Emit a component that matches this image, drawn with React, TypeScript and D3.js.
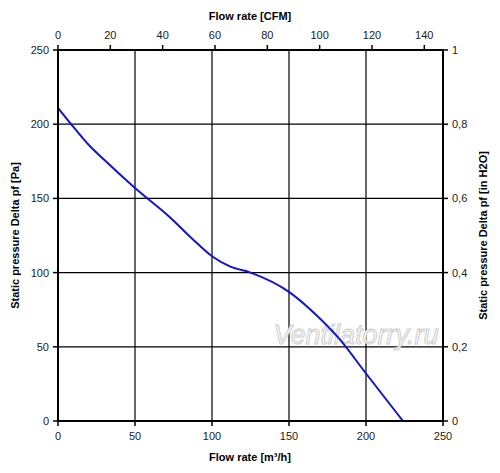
import React from "react";
import * as d3 from "d3";

// curve, m3/h vs Pa
const flowM3h = [0, 8.5, 20, 30, 50, 73, 87, 100, 112, 125, 150, 164, 183, 200, 224];
const pressurePa = [211, 200, 186, 176, 157, 137, 123, 111, 104, 100, 87, 75, 55, 32, 0];

const bottomTicks = [0, 50, 100, 150, 200, 250];
const leftTicks = [0, 50, 100, 150, 200, 250];
const topTicks = [0, 20, 40, 60, 80, 100, 120, 140];
const rightTicks = [0, 0.2, 0.4, 0.6, 0.8, 1];

const W = 500;
const H = 473;
const left = 58;
const right = 443;
const top = 50;
const bottom = 421;
const font = "'Liberation Sans', Arial, sans-serif";

const App = () => {
  const x = d3.scaleLinear().domain([0, 250]).range([left, right]);
  const y = d3.scaleLinear().domain([0, 250]).range([bottom, top]);
  // 1 CFM = 1.699 m3/h
  const xTop = d3.scaleLinear().domain([0, 250 / 1.699]).range([left, right]);
  const yRight = d3.scaleLinear().domain([0, 1]).range([bottom, top]);

  const line = d3
    .line<number>()
    .x((d, i) => x(flowM3h[i]))
    .y((d) => y(d))
    .curve(d3.curveMonotoneX);

  const fmt = (v: number) => String(v).replace(".", ",");

  return (
    <svg width={W} height={H} style={{ position: "absolute", left: 0, top: 0 }}>
      <rect width={W} height={H} fill="#fff" />
      {/* grid */}
      {bottomTicks.slice(1, -1).map((t) => (
        <line key={"gx" + t} x1={x(t)} x2={x(t)} y1={top} y2={bottom} stroke="#000" strokeWidth={1.2} />
      ))}
      {leftTicks.slice(1, -1).map((t) => (
        <line key={"gy" + t} x1={left} x2={right} y1={y(t)} y2={y(t)} stroke="#000" strokeWidth={1.2} />
      ))}
      {/* watermark */}
      <text
        x={356}
        y={344}
        textAnchor="middle"
        fontFamily={font}
        fontStyle="italic"
        fontSize={27}
        fill="#fafafa"
        stroke="#cfcfcf"
        strokeWidth={1}
      >
        Ventilatorry.ru
      </text>
      {/* curve */}
      <path d={line(pressurePa) as string} fill="none" stroke="#1414c8" strokeWidth={2} />
      {/* frame */}
      <rect x={left} y={top} width={right - left} height={bottom - top} fill="none" stroke="#000" strokeWidth={2} />
      {/* bottom axis */}
      {bottomTicks.map((t) => (
        <g key={"b" + t}>
          <line x1={x(t)} x2={x(t)} y1={bottom} y2={bottom + 5} stroke="#000" strokeWidth={1.5} />
          <text x={x(t)} y={440} textAnchor="middle" fontFamily={font} fontSize={11} fill="#222">
            {t}
          </text>
        </g>
      ))}
      {/* top axis */}
      {topTicks.map((t) => (
        <g key={"t" + t}>
          <line x1={xTop(t)} x2={xTop(t)} y1={top} y2={top - 5} stroke="#000" strokeWidth={1.5} />
          <text x={xTop(t)} y={39} textAnchor="middle" fontFamily={font} fontSize={11} fill="#222">
            {t}
          </text>
        </g>
      ))}
      {/* left axis */}
      {leftTicks.map((t) => (
        <g key={"l" + t}>
          <line x1={left - 5} x2={left} y1={y(t)} y2={y(t)} stroke="#000" strokeWidth={1.5} />
          <text x={49} y={y(t) + 4} textAnchor="end" fontFamily={font} fontSize={11} fill="#222">
            {t}
          </text>
        </g>
      ))}
      {/* right axis */}
      {rightTicks.map((t) => (
        <g key={"r" + t}>
          <line x1={right} x2={right + 5} y1={yRight(t)} y2={yRight(t)} stroke="#000" strokeWidth={1.5} />
          <text x={452} y={yRight(t) + 4} textAnchor="start" fontFamily={font} fontSize={11} fill="#222">
            {fmt(t)}
          </text>
        </g>
      ))}
      {/* titles */}
      <text x={250} y={20} textAnchor="middle" fontFamily={font} fontSize={11} fontWeight="bold">
        Flow rate [CFM]
      </text>
      <text x={250} y={461} textAnchor="middle" fontFamily={font} fontSize={11} fontWeight="bold">
        Flow rate [m³/h]
      </text>
      <text
        transform={`translate(19 ${(top + bottom) / 2}) rotate(-90)`}
        textAnchor="middle"
        fontFamily={font}
        fontSize={11}
        fontWeight="bold"
      >
        Static pressure Delta pf [Pa]
      </text>
      <text
        transform={`translate(487 ${(top + bottom) / 2}) rotate(-90)`}
        textAnchor="middle"
        fontFamily={font}
        fontSize={11}
        fontWeight="bold"
      >
        Static pressure Delta pf [in H2O]
      </text>
    </svg>
  );
};

export default App;
